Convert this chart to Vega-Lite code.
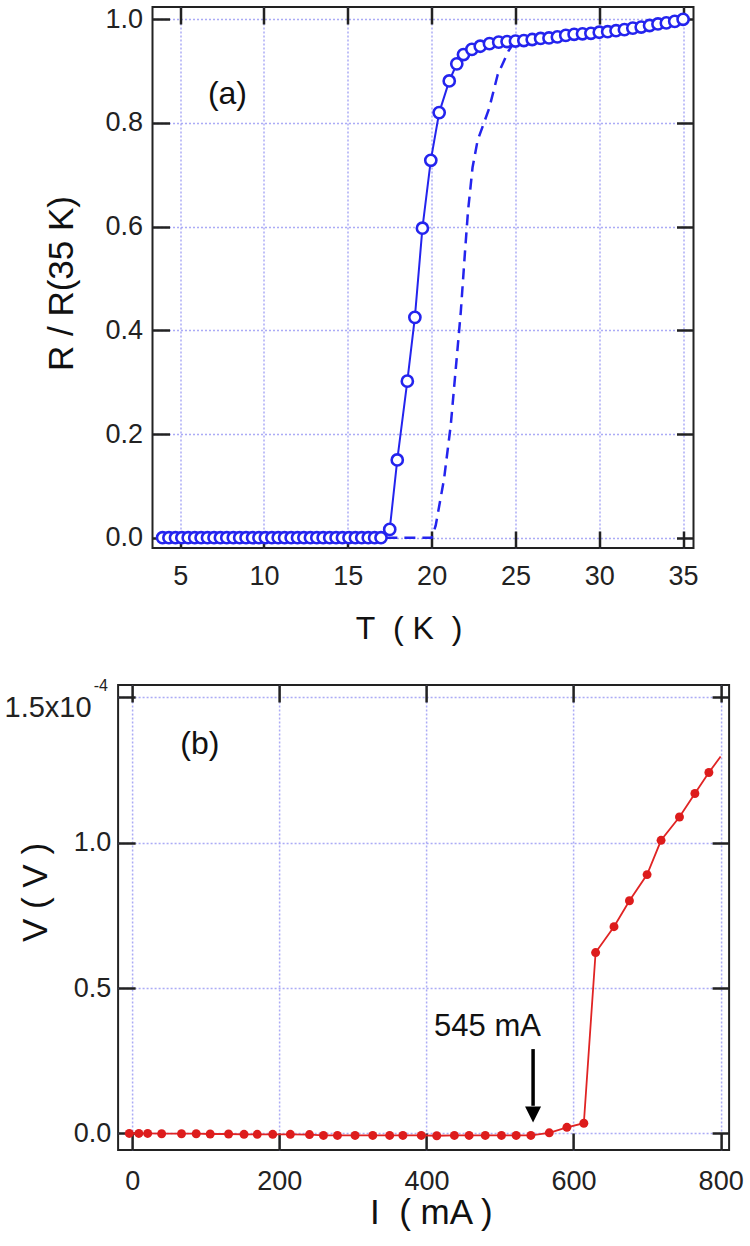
{
  "$schema": "https://vega.github.io/schema/vega-lite/v6.json",
  "padding": {"left": 2, "top": 4, "right": 4, "bottom": 4},
  "spacing": 31,
  "columns": 1,
  "center": true,
  "config": {
    "font": "Liberation Sans",
    "view": {"stroke": "#222222", "strokeWidth": 2},
    "axis": {
      "labelFont": "Liberation Sans",
      "titleFont": "Liberation Sans",
      "labelColor": "#222222",
      "titleColor": "#111111",
      "tickColor": "#222222",
      "tickWidth": 2.5,
      "domain": false,
      "labelFlush": false,
      "labelOverlap": false,
      "labelBound": false,
      "gridColor": "#9c9cf5",
      "gridOpacity": 0.85,
      "gridDash": [2, 2],
      "gridWidth": 1.5
    }
  },
  "datasets": {
    "rt": [
      {"T": 3.95, "R": 0}, {"T": 4.33, "R": 0}, {"T": 4.72, "R": 0}, {"T": 5.1, "R": 0},
      {"T": 5.48, "R": 0}, {"T": 5.87, "R": 0}, {"T": 6.25, "R": 0}, {"T": 6.63, "R": 0},
      {"T": 7.02, "R": 0}, {"T": 7.4, "R": 0}, {"T": 7.78, "R": 0}, {"T": 8.17, "R": 0},
      {"T": 8.55, "R": 0}, {"T": 8.93, "R": 0}, {"T": 9.32, "R": 0}, {"T": 9.7, "R": 0},
      {"T": 10.08, "R": 0}, {"T": 10.47, "R": 0}, {"T": 10.85, "R": 0}, {"T": 11.23, "R": 0},
      {"T": 11.62, "R": 0}, {"T": 12.0, "R": 0}, {"T": 12.38, "R": 0}, {"T": 12.77, "R": 0},
      {"T": 13.15, "R": 0}, {"T": 13.53, "R": 0}, {"T": 13.92, "R": 0}, {"T": 14.3, "R": 0},
      {"T": 14.68, "R": 0}, {"T": 15.07, "R": 0}, {"T": 15.45, "R": 0}, {"T": 15.83, "R": 0},
      {"T": 16.22, "R": 0}, {"T": 16.6, "R": 0}, {"T": 16.98, "R": 0},
      {"T": 17.5, "R": 0.016}, {"T": 17.95, "R": 0.15}, {"T": 18.55, "R": 0.302},
      {"T": 19.0, "R": 0.425}, {"T": 19.45, "R": 0.597}, {"T": 19.95, "R": 0.728},
      {"T": 20.45, "R": 0.82}, {"T": 21.05, "R": 0.881}, {"T": 21.5, "R": 0.914},
      {"T": 21.9, "R": 0.932}, {"T": 22.4, "R": 0.942}, {"T": 22.9, "R": 0.948},
      {"T": 23.45, "R": 0.953}, {"T": 24.0, "R": 0.956}, {"T": 24.5, "R": 0.957},
      {"T": 25.0, "R": 0.958}, {"T": 25.5, "R": 0.959}, {"T": 26.0, "R": 0.961},
      {"T": 26.5, "R": 0.963}, {"T": 27.0, "R": 0.964}, {"T": 27.5, "R": 0.966},
      {"T": 28.0, "R": 0.969}, {"T": 28.5, "R": 0.971}, {"T": 29.0, "R": 0.972},
      {"T": 29.5, "R": 0.973}, {"T": 30.0, "R": 0.975}, {"T": 30.5, "R": 0.976},
      {"T": 31.0, "R": 0.978}, {"T": 31.5, "R": 0.98}, {"T": 32.0, "R": 0.983},
      {"T": 32.5, "R": 0.985}, {"T": 33.0, "R": 0.988}, {"T": 33.5, "R": 0.991},
      {"T": 34.0, "R": 0.993}, {"T": 34.5, "R": 0.996}, {"T": 35.0, "R": 1.0}
    ],
    "dashed": [
      {"T": 17.3, "R": 0}, {"T": 20.0, "R": 0}, {"T": 20.24, "R": 0.023},
      {"T": 20.74, "R": 0.113}, {"T": 21.14, "R": 0.217}, {"T": 21.44, "R": 0.326},
      {"T": 21.74, "R": 0.436}, {"T": 21.98, "R": 0.547}, {"T": 22.17, "R": 0.63},
      {"T": 22.44, "R": 0.714}, {"T": 22.74, "R": 0.766}, {"T": 23.43, "R": 0.828},
      {"T": 23.94, "R": 0.893}, {"T": 24.57, "R": 0.938}, {"T": 24.95, "R": 0.957}
    ],
    "iv": [
      {"I": -4, "V": 0}, {"I": 9, "V": 0}, {"I": 21, "V": 0}, {"I": 40, "V": -1e-7},
      {"I": 67, "V": -1e-7}, {"I": 87, "V": -1e-7}, {"I": 106, "V": -2e-7}, {"I": 131, "V": -2e-7},
      {"I": 152, "V": -3e-7}, {"I": 170, "V": -3e-7}, {"I": 191, "V": -3e-7}, {"I": 215, "V": -3e-7},
      {"I": 241, "V": -4e-7}, {"I": 260, "V": -7e-7}, {"I": 279, "V": -7e-7}, {"I": 303, "V": -7e-7},
      {"I": 327, "V": -7e-7}, {"I": 350, "V": -7e-7}, {"I": 368, "V": -7e-7}, {"I": 393, "V": -7e-7},
      {"I": 414, "V": -8e-7}, {"I": 438, "V": -7e-7}, {"I": 458, "V": -7e-7}, {"I": 480, "V": -7e-7},
      {"I": 502, "V": -7e-7}, {"I": 522, "V": -7e-7}, {"I": 542, "V": -7e-7}, {"I": 567, "V": 2e-7},
      {"I": 591, "V": 2.1e-6}, {"I": 614, "V": 3.5e-6}, {"I": 630, "V": 6.22e-5}, {"I": 655, "V": 7.11e-5},
      {"I": 676, "V": 8.0e-5}, {"I": 700, "V": 8.9e-5}, {"I": 719, "V": 1.008e-4}, {"I": 744, "V": 1.088e-4},
      {"I": 765, "V": 1.169e-4}, {"I": 784, "V": 1.241e-4}, {"I": 800, "V": 1.296e-4}
    ]
  },
  "concat": [
    {
      "width": 541,
      "height": 541,
      "layer": [
        {
          "data": {"name": "dashed"},
          "mark": {"type": "line", "color": "#2424ee", "strokeWidth": 2.5, "strokeDash": [11, 7]},
          "encoding": {
            "x": {"field": "T", "type": "quantitative",
              "scale": {"domain": [3.35, 35.62], "nice": false, "zero": false},
              "axis": {"orient": "top", "values": [5, 10, 15, 20, 25, 30, 35], "labels": false, "title": null, "grid": false, "tickSize": -17, "minExtent": 0}},
            "y": {"field": "R", "type": "quantitative",
              "scale": {"domain": [-0.0199, 1.0237], "nice": false, "zero": false},
              "axis": {"orient": "right", "values": [0, 0.2, 0.4, 0.6, 0.8, 1.0], "labels": false, "title": null, "grid": false, "tickSize": -17, "minExtent": 20}}
          }
        },
        {
          "data": {"name": "rt"},
          "mark": {"type": "line", "color": "#2424ee", "strokeWidth": 2},
          "encoding": {
            "x": {"field": "T", "type": "quantitative", "scale": {"domain": [3.35, 35.62], "nice": false, "zero": false}, "axis": null},
            "y": {"field": "R", "type": "quantitative", "scale": {"domain": [-0.0199, 1.0237], "nice": false, "zero": false}, "axis": null}
          }
        },
        {
          "data": {"name": "rt"},
          "mark": {"type": "point", "shape": "circle", "fill": "white", "fillOpacity": 1, "stroke": "#2424ee", "strokeWidth": 2.6, "size": 125, "opacity": 1},
          "encoding": {
            "x": {"field": "T", "type": "quantitative",
              "scale": {"domain": [3.35, 35.62], "nice": false, "zero": false},
              "axis": {"orient": "bottom", "values": [5, 10, 15, 20, 25, 30, 35], "grid": true, "tickSize": -17,
                "labelFontSize": 27, "labelPadding": 53.5, "labelBaseline": "alphabetic",
                "title": "T\u00a0\u00a0( K\u00a0\u00a0)", "titleFontSize": 32, "titleFontWeight": "normal",
                "titleX": 256, "titleY": 90.7, "titleBaseline": "alphabetic", "titleAlign": "center", "titleAngle": 0}},
            "y": {"field": "R", "type": "quantitative",
              "scale": {"domain": [-0.0199, 1.0237], "nice": false, "zero": false},
              "axis": {"orient": "left", "values": [0, 0.2, 0.4, 0.6, 0.8, 1.0], "format": ".1f", "grid": true, "tickSize": -17,
                "labelFontSize": 27, "labelPadding": 27, "labelBaseline": "middle",
                "title": "R / R(35 K)", "titleFontSize": 35, "titleFontWeight": "normal",
                "titleAngle": -90, "titleX": -80, "titleY": 276, "titleBaseline": "alphabetic", "titleAlign": "center",
                "minExtent": 0}}
          }
        },
        {
          "data": {"values": [{}]},
          "mark": {"type": "text", "text": "(a)", "fontSize": 32, "align": "center", "baseline": "alphabetic", "color": "#111111"},
          "encoding": {
            "x": {"datum": 7.82, "type": "quantitative", "scale": {"domain": [3.35, 35.62], "nice": false, "zero": false}, "axis": null},
            "y": {"datum": 0.837, "type": "quantitative", "scale": {"domain": [-0.0199, 1.0237], "nice": false, "zero": false}, "axis": null}
          }
        }
      ],
      "resolve": {"axis": {"x": "independent", "y": "independent"}}
    },
    {
      "width": 611,
      "height": 465,
      "layer": [
        {
          "data": {"name": "iv"},
          "mark": {"type": "line", "color": "#e02424", "strokeWidth": 1.8},
          "encoding": {
            "x": {"field": "I", "type": "quantitative",
              "scale": {"domain": [-19.2, 811.5], "nice": false, "zero": false},
              "axis": {"orient": "top", "values": [0, 200, 400, 600, 800], "labels": false, "title": null, "grid": false, "tickSize": -17, "minExtent": 0}},
            "y": {"field": "V", "type": "quantitative",
              "scale": {"domain": [-0.0000057, 0.0001542], "nice": false, "zero": false},
              "axis": {"orient": "right", "values": [0, 0.00005, 0.0001, 0.00015], "labels": false, "title": null, "grid": false, "tickSize": -17, "minExtent": 18.8}}
          }
        },
        {
          "data": {"name": "iv"},
          "transform": [{"filter": "datum.I < 790"}],
          "mark": {"type": "point", "shape": "circle", "filled": true, "color": "#dd1c1c", "size": 80, "opacity": 1},
          "encoding": {
            "x": {"field": "I", "type": "quantitative",
              "scale": {"domain": [-19.2, 811.5], "nice": false, "zero": false},
              "axis": {"orient": "bottom", "values": [0, 200, 400, 600, 800], "grid": true, "tickSize": -17,
                "labelFontSize": 27, "labelPadding": 56.7, "labelBaseline": "alphabetic",
                "title": "I\u00a0\u00a0( mA )", "titleFontSize": 35, "titleFontWeight": "normal",
                "titleX": 312.7, "titleY": 73, "titleBaseline": "alphabetic", "titleAlign": "center", "titleAngle": 0}},
            "y": {"field": "V", "type": "quantitative",
              "scale": {"domain": [-0.0000057, 0.0001542], "nice": false, "zero": false},
              "axis": {"orient": "left", "values": [0, 0.00005, 0.0001, 0.00015], "grid": true, "tickSize": -17,
                "labelExpr": "datum.value > 0.00014 ? '1.5x10' : format(datum.value * 10000, '.1f')",
                "labelFontSize": {"condition": {"test": "datum.value > 0.00014", "value": 29}, "value": 27},
                "labelPadding": {"condition": {"test": "datum.value > 0.00014", "value": 44}, "value": 24.3},
                "labelBaseline": "middle",
                "labelOffset": {"condition": {"test": "datum.value > 0.00014", "value": 10}, "value": 0},
                "title": "V ( V )", "titleFontSize": 35, "titleFontWeight": "normal",
                "titleAngle": -90, "titleX": -72, "titleY": 207, "titleBaseline": "alphabetic", "titleAlign": "center",
                "minExtent": 115}}
          }
        },
        {
          "data": {"values": [{}]},
          "mark": {"type": "text", "text": "-4", "fontSize": 16, "align": "center", "baseline": "middle", "color": "#222222"},
          "encoding": {
            "x": {"datum": -42.7, "type": "quantitative", "scale": {"domain": [-19.2, 811.5], "nice": false, "zero": false}, "axis": null},
            "y": {"datum": 0.0001538, "type": "quantitative", "scale": {"domain": [-0.0000057, 0.0001542], "nice": false, "zero": false}, "axis": null}
          }
        },
        {
          "data": {"values": [{}]},
          "mark": {"type": "rule", "color": "#000000", "strokeWidth": 3.5},
          "encoding": {
            "x": {"datum": 545, "type": "quantitative", "scale": {"domain": [-19.2, 811.5], "nice": false, "zero": false}, "axis": null},
            "y": {"datum": 0.000029, "type": "quantitative", "scale": {"domain": [-0.0000057, 0.0001542], "nice": false, "zero": false}, "axis": null},
            "y2": {"datum": 0.0000095}
          }
        },
        {
          "data": {"values": [{}]},
          "mark": {"type": "point", "shape": "M-1,-1L1,-1L0,1Z", "filled": true, "color": "#000000", "size": 256, "opacity": 1, "strokeWidth": 0},
          "encoding": {
            "x": {"datum": 545, "type": "quantitative", "scale": {"domain": [-19.2, 811.5], "nice": false, "zero": false}, "axis": null},
            "y": {"datum": 0.00000655, "type": "quantitative", "scale": {"domain": [-0.0000057, 0.0001542], "nice": false, "zero": false}, "axis": null}
          }
        },
        {
          "data": {"values": [{}]},
          "mark": {"type": "text", "text": "545 mA", "fontSize": 31, "align": "center", "baseline": "alphabetic", "color": "#111111"},
          "encoding": {
            "x": {"datum": 483, "type": "quantitative", "scale": {"domain": [-19.2, 811.5], "nice": false, "zero": false}, "axis": null},
            "y": {"datum": 0.0000335, "type": "quantitative", "scale": {"domain": [-0.0000057, 0.0001542], "nice": false, "zero": false}, "axis": null}
          }
        },
        {
          "data": {"values": [{}]},
          "mark": {"type": "text", "text": "(b)", "fontSize": 32, "align": "center", "baseline": "alphabetic", "color": "#111111"},
          "encoding": {
            "x": {"datum": 92, "type": "quantitative", "scale": {"domain": [-19.2, 811.5], "nice": false, "zero": false}, "axis": null},
            "y": {"datum": 0.0001304, "type": "quantitative", "scale": {"domain": [-0.0000057, 0.0001542], "nice": false, "zero": false}, "axis": null}
          }
        }
      ],
      "resolve": {"axis": {"x": "independent", "y": "independent"}}
    }
  ]
}
